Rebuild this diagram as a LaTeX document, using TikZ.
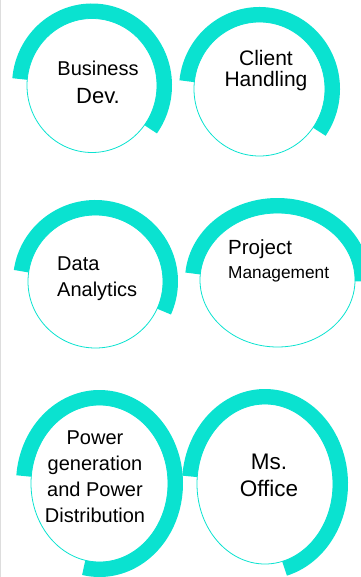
\documentclass[tikz,border=0pt]{standalone}
\usepackage{fontspec}
\setmainfont{Liberation Sans}
\usepackage{tikz}
\definecolor{turq}{RGB}{10,226,208}
\definecolor{edgegrey}{RGB}{221,221,221}
\tikzset{
  thin ring/.style={draw=turq,line width=0.8pt},
  thick ring/.style={draw=turq,line width=15pt},
  skill/.style={inner sep=0pt,anchor=base,align=center,font=\fontsize{20}{26}\selectfont}
}

\begin{document}
\begin{tikzpicture}[x=1pt,y=1pt]
    \useasboundingbox (0,0) rectangle (360,-577);
    \draw[edgegrey,line width=1pt] (0.5,0) -- (0.5,-577);
    % top row
    \coordinate (bd) at (92,-85.5);
    \coordinate (ch) at (259.5,-89);
    \draw[thin ring] (bd) ellipse[x radius=65,y radius=67];
    \draw[thick ring] (bd) ++(175:72.5 and 74.5) arc[start angle=175,end angle=-36,x radius=72.5,y radius=74.5];
    \draw[thin ring] (ch) ellipse[x radius=65.5,y radius=67];
    \draw[thick ring] (ch) ++(174:73 and 74.5) arc[start angle=174,end angle=-35,x radius=73,y radius=74.5];
    \node[skill,font=\fontsize{20}{28}\selectfont](bdtext) at (98,-104) {Business\\{\fontsize{22}{28}\selectfont Dev.}};
    \node[skill,font=\fontsize{21}{21}\selectfont](chtext) at (266,-87) {Client\\Handling};
    % middle row
    \coordinate (da) at (95.5,-281.5);
    \coordinate (pm) at (277.5,-280);
    \draw[thin ring] (da) ellipse[x radius=67.5,y radius=66.5];
    \draw[thick ring] (da) ++(172:75 and 74) arc[start angle=172,end angle=-24,x radius=75,y radius=74];
    \draw[thin ring] (pm) ellipse[x radius=77.5,y radius=67];
    \draw[thick ring] (pm) ++(175:85 and 74.5) arc[start angle=175,end angle=-1,x radius=85,y radius=74.5];
    \node[skill,align=left,anchor=base west](datext) at (57,-296) {Data\\Analytics};
    \node[skill,align=left,anchor=base west,font=\fontsize{20.5}{24}\selectfont](pmtext) at (228,-278)
        {Project\\{\fontsize{17.3}{24}\selectfont Management}};
    % bottom row
    \coordinate (pg) at (99.5,-483.5);
    \coordinate (mo) at (265,-484);
    \draw[thin ring] (pg) ellipse[x radius=68.5,y radius=78.5];
    \draw[thick ring] (pg) ++(175:76 and 86) arc[start angle=175,end angle=-102,x radius=76,y radius=86];
    \draw[thin ring] (mo) ellipse[x radius=68,y radius=80];
    \draw[thick ring] (mo) ++(175:75.5 and 87.5) arc[start angle=175,end angle=-75,x radius=75.5,y radius=87.5];
    \node[skill,font=\fontsize{20}{25.7}\selectfont](pgtext) at (95,-522) {Power\\generation\\and Power\\Distribution};
    \node[skill,font=\fontsize{22.5}{27}\selectfont](motext) at (269,-496) {Ms.\\Office};
\end{tikzpicture}
\end{document}
